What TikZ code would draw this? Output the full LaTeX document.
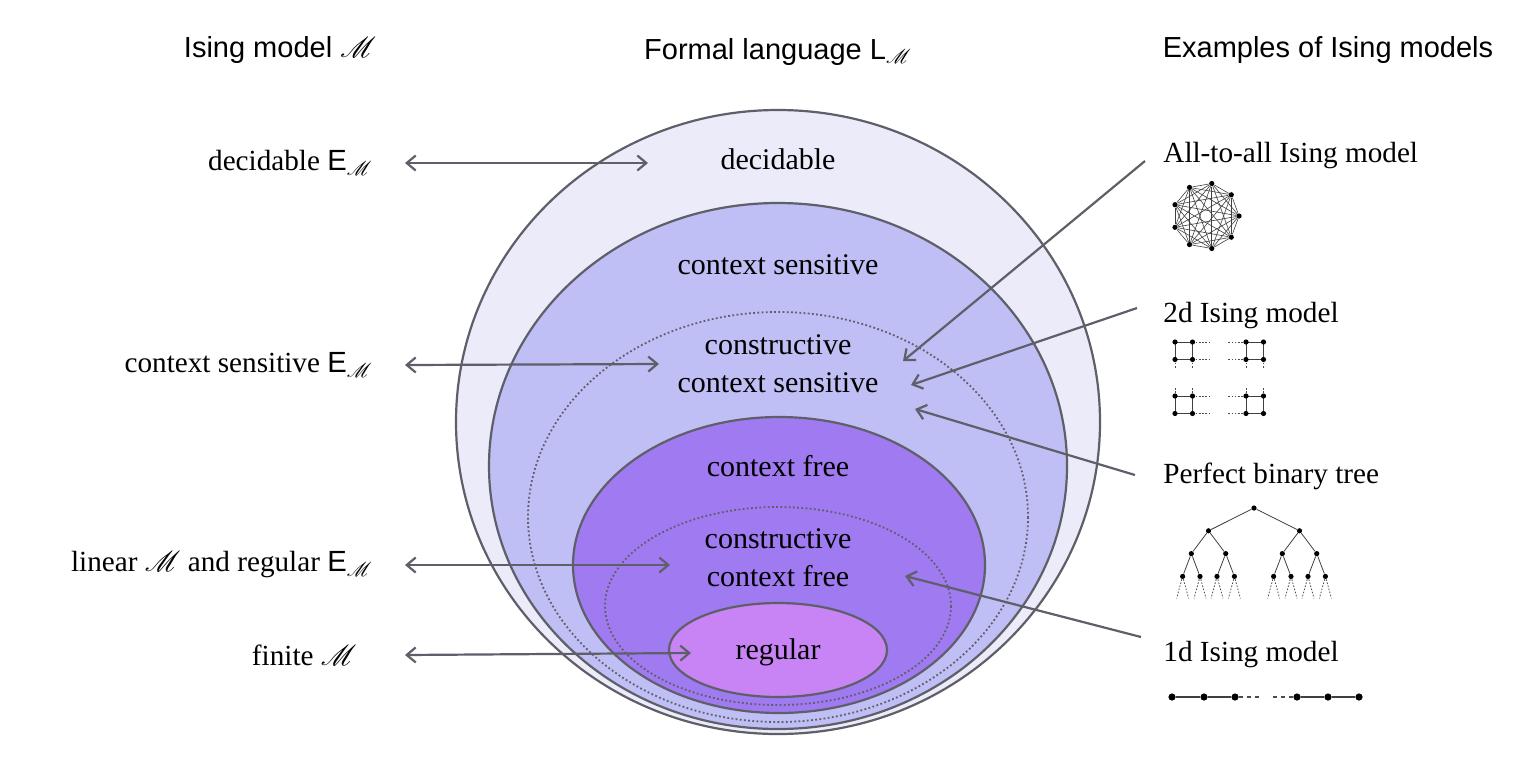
\documentclass[tikz,border=0pt]{standalone}
\usepackage{fontspec}
\setmainfont{Liberation Serif}
\setsansfont{Liberation Sans}
\usepackage{mathrsfs}
\usetikzlibrary{arrows.meta}

\definecolor{rim}{HTML}{5E5F68}
\definecolor{decfill}{HTML}{ECEBFA}
\definecolor{csfill}{HTML}{BFBEF5}
\definecolor{cffill}{HTML}{A07AF0}
\definecolor{regfill}{HTML}{C884F5}

\tikzset{
  langset/.style={draw=rim, line width=1.1pt},
  consset/.style={draw=rim, line width=0.9pt, dash pattern=on 0.9pt off 1.2pt},
  lang/.style={font=\fontsize{15}{19}\selectfont, align=center, inner sep=0pt},
  lab/.style={font=\fontsize{14.6}{19}\selectfont, inner sep=0pt},
  head/.style={font=\sffamily\fontsize{14.5}{17}\selectfont, inner sep=0pt},
  arr/.style={rim, line width=1.1pt, -{Straight Barb[length=4.5pt,width=7.5pt]}},
  biarr/.style={rim, line width=1.1pt, {Straight Barb[length=4.5pt,width=7.5pt]}-{Straight Barb[length=4.5pt,width=7.5pt]}},
  spin/.style={circle, fill=black, inner sep=0pt, minimum size=2.6pt},
  bond/.style={draw=black!75, line width=0.4pt},
  gap/.style={draw=black!70, line width=0.4pt, dash pattern=on 0.8pt off 0.8pt},
}

\begin{document}
\begin{tikzpicture}[x=0.5pt,y=-0.5pt]
\useasboundingbox (0,0) rectangle (1513,756);

\node[head] (hmod) at (280,50) {Ising model $\mathscr{M}$};
\node[head] (hlang) at (778,52) {Formal language L$_{\mathscr{M}}$};
\node[head] (hex) at (1328,50) {Examples of Ising models};

\draw[langset, fill=decfill] (778,422) ellipse [x radius=322, y radius=312];
\draw[langset, fill=csfill] (778,466) ellipse [x radius=289, y radius=263];
\draw[consset] (778,517) ellipse [x radius=250, y radius=205];
\draw[langset, fill=cffill] (779,565) ellipse [x radius=206, y radius=148];
\draw[consset] (778,606) ellipse [x radius=173, y radius=99];
\draw[langset, fill=regfill] (778,650) ellipse [x radius=109, y radius=47];

\node[lang, anchor=base] (ldec) at (778,169) {decidable};
\node[lang, anchor=base] (lcs) at (778,274) {context sensitive};
\node[lang, anchor=base] (lccs) at (778,392) {constructive\\context sensitive};
\node[lang, anchor=base] (lcf) at (778,476) {context free};
\node[lang, anchor=base] (lccf) at (778,586) {constructive\\context free};
\node[lang, anchor=base] (lreg) at (778,659) {regular};

\node[lab, anchor=east] (mdec) at (373,163) {decidable \textsf{E}$_{\mathscr{M}}$};
\node[lab, anchor=east] (mcs) at (373,365) {context sensitive \textsf{E}$_{\mathscr{M}}$};
\node[lab, anchor=east] (mlin) at (373,565) {linear $\mathscr{M}$ and regular \textsf{E}$_{\mathscr{M}}$};
\node[lab, anchor=east] (mfin) at (357,655) {finite $\mathscr{M}$};

\coordinate (qdec) at (648,163);
\coordinate (qcs) at (659,364);
\coordinate (qcf) at (670,565);
\coordinate (qreg) at (691,653);
\draw[biarr] ([xshift=16pt]mdec.east) -- (qdec);
\draw[biarr] ([xshift=16pt]mcs.east) -- (qcs);
\draw[biarr] ([xshift=16pt]mlin.east) -- (qcf);
\draw[biarr] ([xshift=24pt]mfin.east) -- (qreg);

\node[lab, anchor=west] (eall) at (1163,156) {All-to-all Ising model};
\node[lab, anchor=west] (etwo) at (1163,316) {2d Ising model};
\node[lab, anchor=west] (etree) at (1163,476) {Perfect binary tree};
\node[lab, anchor=west] (eone) at (1163,655) {1d Ising model};

\coordinate (pall) at (903,361);
\coordinate (ptwo) at (911,385);
\coordinate (ptree) at (915,409);
\coordinate (pone) at (905,576);
\draw[arr] ([shift={(-18,5)}]eall.west) -- (pall);
\draw[arr] ([shift={(-26,-8)}]etwo.west) -- (ptwo);
\draw[arr] ([shift={(-28,-1)}]etree.west) -- (ptree);
\draw[arr] ([shift={(-22,-18)}]eone.west) -- (pone);

\foreach \i in {0,...,8}
  \node[spin] (k\i) at ([shift={(1206,216)}]40*\i:33) {};
\foreach \i in {0,...,7} {
  \pgfmathtruncatemacro\nxt{\i+1}
  \foreach \j in {\nxt,...,8}
    \draw[bond, line width=0.3pt] (k\i) -- (k\j);
}

\foreach \px/\py/\hd/\vd in {1175/342/1/1, 1246/342/-1/1, 1175/396/1/-1, 1246/396/-1/-1} {
  \draw[bond] (\px,\py) rectangle ({\px+17.5},{\py+17.5});
  \draw[gap] ({\px+8.75*(1+\hd)},\py) -- ++({18*\hd},0);
  \draw[gap] ({\px+8.75*(1+\hd)},{\py+17.5}) -- ++({18*\hd},0);
  \draw[gap] (\px,{\py+8.75*(1+\vd)}) -- ++(0,{8*\vd});
  \draw[gap] ({\px+17.5},{\py+8.75*(1+\vd)}) -- ++(0,{8*\vd});
  \foreach \dx/\dy in {0/0, 17.5/0, 0/17.5, 17.5/17.5}
    \fill ({\px+\dx},{\py+\dy}) circle [radius=1.3pt];
}

\node[spin] (troot) at (1254,508) {}
  [level distance=11.4pt, edge from parent/.style={bond},
   level 1/.style={sibling distance=45.5pt},
   level 2/.style={sibling distance=17.2pt},
   level 3/.style={sibling distance=8.7pt},
   level 4/.style={sibling distance=6pt, level distance=11pt, edge from parent/.style={gap}}]
  child foreach \a in {1,2} {node[spin] {}
    child foreach \b in {1,2} {node[spin] {}
      child foreach \c in {1,2} {node[spin] {}
        child foreach \d in {1,2} {coordinate}}}};

\foreach \n/\cx in {1/1172, 2/1204, 3/1235, 4/1297, 5/1328, 6/1359}
  \node[spin, minimum size=3.6pt] (s\n) at (\cx,697) {};
\draw[bond, line width=0.6pt] (s1) -- (s2) -- (s3);
\draw[bond, line width=0.6pt] (s4) -- (s5) -- (s6);
\draw[gap, line width=0.6pt, dash pattern=on 2pt off 2pt] (s3) -- ++(25,0);
\draw[gap, line width=0.6pt, dash pattern=on 2pt off 2pt] (s4) -- ++(-25,0);
\end{tikzpicture}
\end{document}
